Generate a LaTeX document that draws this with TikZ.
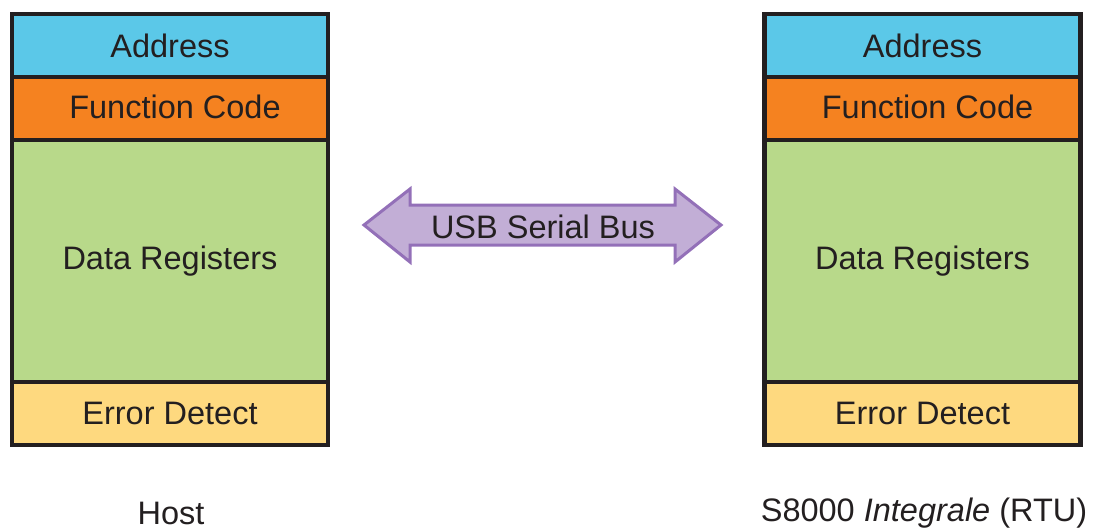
\documentclass[tikz,border=0pt]{standalone}
\usepackage{fontspec}
\setmainfont{Liberation Sans}
\definecolor{bordercol}{HTML}{231F20}
\definecolor{addrcol}{HTML}{5BC8E8}
\definecolor{funccol}{HTML}{F58220}
\definecolor{datacol}{HTML}{B8D98A}
\definecolor{errcol}{HTML}{FED97F}
\definecolor{busfill}{HTML}{C2AED6}
\definecolor{busline}{HTML}{9370B8}
\begin{document}
\begin{tikzpicture}[x=1pt,y=-1pt,
  section/.style={draw=bordercol, line width=4.5pt, minimum width=316pt, inner sep=0pt, outer sep=0pt,
    font=\fontsize{32.5}{38}\selectfont, text=bordercol},
  shortsec/.style={section, minimum height=63pt},
  caption/.style={font=\fontsize{32.5}{38}\selectfont, text=bordercol, inner sep=0pt}]
\useasboundingbox (0,0) rectangle (1094,530);
% Host stack
\node[shortsec, fill=addrcol] (haddr) at (170,45.5) {Address};
\node[shortsec, fill=funccol] (hfunc) at (170,108.5) {\kern10pt\raisebox{3pt}{Function Code}};
\node[section, fill=datacol, minimum height=242pt] (hdata) at (170,261) {Data Registers};
\node[shortsec, fill=errcol] (herr) at (170,413.5) {Error Detect};
% RTU stack
\node[shortsec, fill=addrcol] (raddr) at (922.5,45.5) {Address};
\node[shortsec, fill=funccol] (rfunc) at (922.5,108.5) {\kern10pt\raisebox{3pt}{Function Code}};
\node[section, fill=datacol, minimum height=242pt] (rdata) at (922.5,261) {Data Registers};
\node[shortsec, fill=errcol] (rerr) at (922.5,413.5) {Error Detect};
% Bus arrow
\draw[fill=busfill, draw=busline, line width=3pt, line join=miter]
  (364,225) -- (410,189) -- (410,205) -- (675,205) -- (675,189) -- (721,225)
  -- (675,262) -- (675,245) -- (410,245) -- (410,262) -- cycle;
\node[caption] (bus) at (543,227) {USB Serial Bus};
% Captions
\node[caption] (host) at (171,513.5) {Host};
\node[caption] (rtu) at (924,513.5) {S8000 \textit{Integrale} (RTU)};
\end{tikzpicture}
\end{document}
